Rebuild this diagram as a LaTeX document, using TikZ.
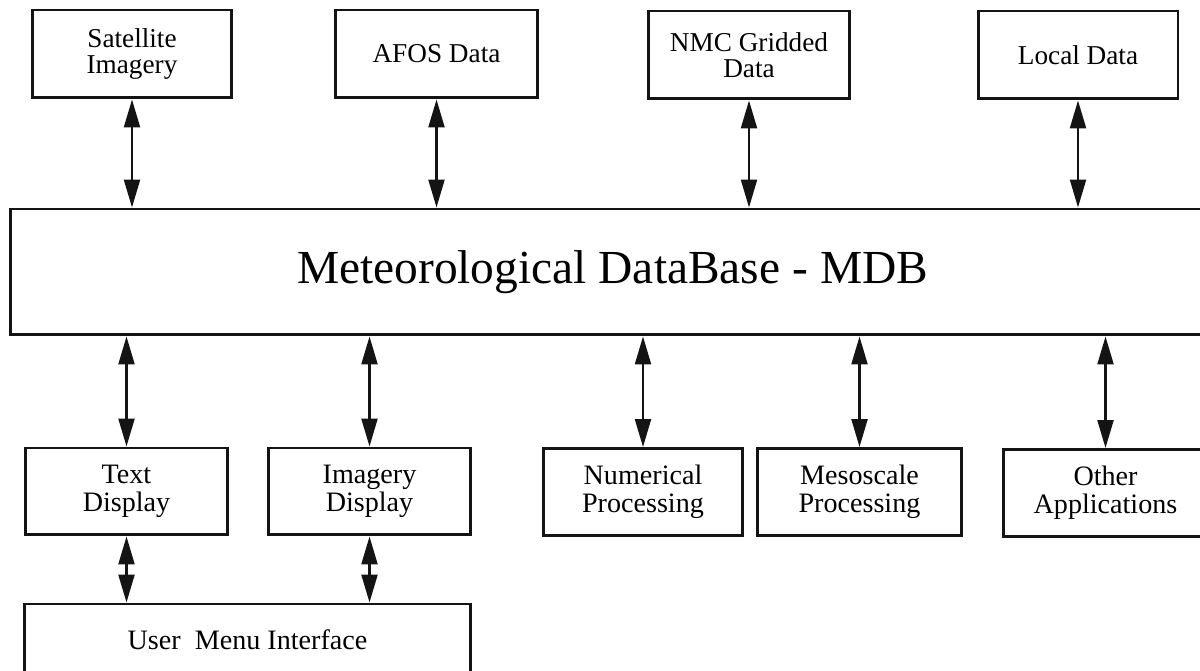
\documentclass[tikz,border=0pt]{standalone}
\usepackage{fontspec}
\setmainfont{Liberation Serif}
\usepackage{tikz}
\usetikzlibrary{arrows.meta}
\definecolor{ink}{RGB}{20, 20, 20}

\begin{document}
\begin{tikzpicture}[x=0.02cm, y=-0.02cm,
  srcbox/.style={draw=ink, line width=1.7pt, minimum width=4cm, minimum height=1.76cm,
        align=center, inner sep=0pt, font=\fontsize{15.5}{15}\selectfont},
  procbox/.style={draw=ink, line width=1.7pt, minimum width=4.06cm, minimum height=1.74cm,
        align=center, inner sep=0pt, font=\fontsize{16}{16}\selectfont},
  link/.style={{Triangle[length=0.56cm, width=0.32cm]}-{Triangle[length=0.56cm, width=0.32cm]},
        line width=1.3pt, ink}]
  \useasboundingbox (0,0) rectangle (1200,671);
  \clip (0,0) rectangle (1200,671);

  \node[srcbox] (sat) at (132,54) {Satellite\\Imagery};
  \node[srcbox, minimum width=4.06cm] (afos) at (436.5,54) {AFOS Data};
  \node[srcbox, minimum width=4.04cm] (nmc) at (749,55) {NMC Gridded\\Data};
  \node[srcbox] (local) at (1078,55) {Local Data};

  \node[draw=ink, line width=1.7pt, minimum width=24.1cm, minimum height=2.52cm,
        font=\fontsize{27}{30}\selectfont] (mdb) at (612.5,272) {Meteorological DataBase - MDB};

  \node[procbox] (txt) at (126.5,491.5) {Text\\Display};
  \node[procbox] (img) at (369.5,491.5) {Imagery\\Display};
  \node[procbox, minimum width=4cm] (num) at (643,492) {Numerical\\Processing};
  \node[procbox, minimum width=4.1cm] (meso) at (859.5,492) {Mesoscale\\Processing};
  \node[procbox, minimum width=4.1cm] (other) at (1105.5,493) {Other\\Applications};

  \node[procbox, minimum width=8.94cm, minimum height=1.44cm] (menu) at (247.5,640) {User\ \ Menu Interface};

  \draw[link] (sat) -- (sat |- mdb.north);
  \draw[link] (afos) -- (afos |- mdb.north);
  \draw[link] (nmc) -- (nmc |- mdb.north);
  \draw[link] (local) -- (local |- mdb.north);

  \draw[link] (mdb.south -| txt) -- (txt);
  \draw[link] (mdb.south -| img) -- (img);
  \draw[link] (mdb.south -| num) -- (num);
  \draw[link] (mdb.south -| meso) -- (meso);
  \draw[link] (mdb.south -| other) -- (other);

  \draw[link] (txt) -- (txt |- menu.north);
  \draw[link] (img) -- (img |- menu.north);
\end{tikzpicture}
\end{document}
